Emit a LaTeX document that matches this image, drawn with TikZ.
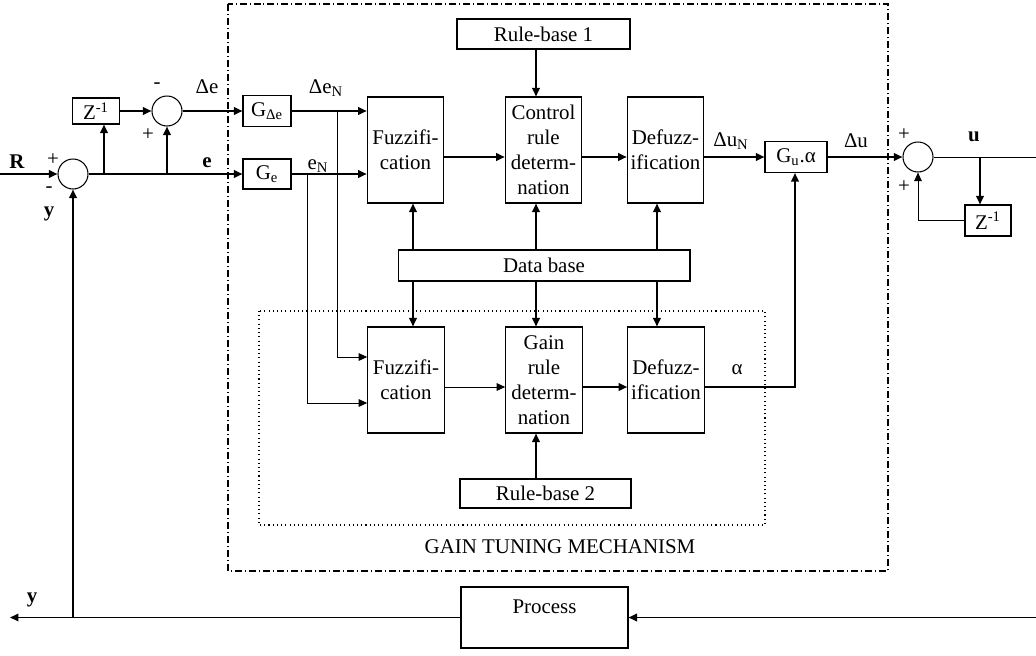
\documentclass[tikz,border=0pt]{standalone}
\usepackage{fontspec}
\setmainfont{Liberation Serif}
\usetikzlibrary{arrows.meta,calc}
\begin{document}
\begin{tikzpicture}[x=0.02cm,y=-0.02cm,
  font=\fontsize{11.9}{14.2}\selectfont,
  blk/.style={draw,line width=0.6pt,inner sep=0pt,align=center},
  fbox/.style={blk,minimum width=1.53cm,minimum height=2.12cm},
  sumc/.style={draw,circle,line width=0.6pt,minimum size=0.6cm,inner sep=0pt},
  thk/.style={line width=1.1pt},
  thn/.style={line width=0.55pt},
  arr/.style={-{Triangle[length=0.17cm,width=0.15cm]}},
  lbl/.style={inner sep=0pt},
  dashdot/.style={line width=0.6pt,dash pattern=on 0.14cm off 0.06cm on 0.02cm off 0.06cm},
  dots/.style={line width=0.6pt,dash pattern=on 0.6pt off 1.8pt},
]
\useasboundingbox (0,0) rectangle (1036,656);

% frames
\draw[dashdot] (228,4) rectangle (888,571);
\draw[dots] (259,311) rectangle (765,525);
\node[lbl] (gtm) at (560,547) {GAIN TUNING MECHANISM};

% blocks
\node[sumc] (s1) at (73,174) {};
\node[blk,minimum width=0.94cm,minimum height=0.52cm] (z1) at (96,111) {Z\textsuperscript{-1}};
\node[sumc] (s2) at (167,111) {};
\node[blk,minimum width=0.96cm,minimum height=0.62cm] (gde) at (267,111) {G\textsubscript{Δe}};
\node[blk,minimum width=0.96cm,minimum height=0.60cm] (ge) at (267,174) {G\textsubscript{e}};
\node[fbox] (fz1) at (405.5,150) {Fuzzifi-\\cation};
\node[fbox] (ctrl) at (543.5,150) {Control\\rule\\determ-\\nation};
\node[fbox] (dfz1) at (665.5,150) {Defuzz-\\ification};
\node[blk,minimum width=3.46cm,minimum height=0.6cm] (rb1) at (543.5,34) {Rule-base 1};
\node[blk,minimum width=5.84cm,minimum height=0.62cm] (db) at (544,265.5) {Data base};
\node[fbox] (fz2) at (406,380) {Fuzzifi-\\cation};
\node[fbox] (gain) at (544,380) {Gain\\rule\\determ-\\nation};
\node[fbox] (dfz2) at (666,380) {Defuzz-\\ification};
\node[blk,minimum width=3.42cm,minimum height=0.58cm] (rb2) at (545.5,493.5) {Rule-base 2};
\node[blk,minimum width=1.24cm,minimum height=0.62cm] (gua) at (796,157) {G\textsubscript{u}.α};
\node[sumc] (s3) at (918,157) {};
\node[blk,minimum width=0.92cm,minimum height=0.62cm] (z2) at (988,220.5) {Z\textsuperscript{-1}};
\node[blk,minimum width=3.34cm,minimum height=1.22cm,text height=0.7em,text depth=1.14em] (proc) at (544.5,617.5) {Process};

% coordinates
\coordinate (rin) at (0,174);
\coordinate (b1) at (104,174);
\coordinate (b2) at (167,174);
\coordinate (bde) at (337,111);
\coordinate (be) at (307,174);
\coordinate (r1) at (0,157);
\coordinate (r2) at (0,387);
\coordinate (xa) at (413,0);
\coordinate (xb) at (536,0);
\coordinate (xc) at (657,0);
\coordinate (ya) at (0,357);
\coordinate (yb) at (0,403);
\coordinate (xal) at (795,0);
\coordinate (bu) at (980,157);
\coordinate (uout) at (1036,157);
\coordinate (pin) at (1036,617.5);
\coordinate (yout) at (10,617.5);
\coordinate (by) at (73,617.5);

% connectors
\draw[thk,arr] (rin) -- (s1.west);
\draw[thk,arr] (s1.east) -- (ge.west);
\draw[thk,arr] (b1) -- (b1 |- z1.south);
\draw[thk,arr] (b2) -- (s2.south);
\draw[thk,arr] (z1.east) -- (s2.west);
\draw[thk,arr] (s2.east) -- (gde.west);
\draw[thk,arr] (gde.east) -- (gde.east -| fz1.west);
\draw[thk,arr] (ge.east) -- (ge.east -| fz1.west);
\draw[thn,arr] (bde) |- (fz2.west |- ya);
\draw[thn,arr] (be) |- (fz2.west |- yb);
\draw[thk,arr] (fz1.east |- r1) -- (ctrl.west |- r1);
\draw[thk,arr] (ctrl.east |- r1) -- (dfz1.west |- r1);
\draw[thk,arr] (dfz1.east |- r1) -- (gua.west |- r1);
\draw[thk,arr] (gua.east) -- (s3.west);
\draw[thk,arr] (rb1.south -| xb) -- (ctrl.north -| xb);
\draw[thk,arr] (db.north -| xa) -- (fz1.south -| xa);
\draw[thk,arr] (db.north -| xb) -- (ctrl.south -| xb);
\draw[thk,arr] (db.north -| xc) -- (dfz1.south -| xc);
\draw[thk,arr] (db.south -| xa) -- (fz2.north -| xa);
\draw[thk,arr] (db.south -| xb) -- (gain.north -| xb);
\draw[thk,arr] (db.south -| xc) -- (dfz2.north -| xc);
\draw[thn,arr] (fz2.east |- r2) -- (gain.west |- r2);
\draw[thk,arr] (gain.east |- r2) -- (dfz2.west |- r2);
\draw[thk,arr] (dfz2.east |- r2) -| (gua.south -| xal);
\draw[thk,arr] (rb2.north -| xb) -- (gain.south -| xb);
\draw[thn] (s3.east) -- (uout);
\draw[thk,arr] (bu) -- (z2.north -| bu);
\draw[thn,arr] (z2.west) -| (s3.south);
\draw[thk,arr] (pin) -- (proc.east);
\draw[thk,arr] (proc.west) -- (yout);
\draw[thk,arr] (by) -- (s1.south);

% labels
\node[lbl] (lR) at (17,162) {\textbf{R}};
\node[lbl] (lp1) at (53,160) {+};
\node[lbl] (lm1) at (49,190) {-};
\node[lbl] (ly1) at (49,214) {\textbf{y}};
\node[lbl] (lm2) at (157,86) {-};
\node[lbl] (lp2) at (148,135) {+};
\node[lbl] (lde) at (207,87) {Δe};
\node[lbl] (le) at (207,163) {\textbf{e}};
\node[lbl] (ldeN) at (326,88) {Δe\textsubscript{N}};
\node[lbl] (leN) at (318,166) {e\textsubscript{N}};
\node[lbl] (lduN) at (731,141) {Δu\textsubscript{N}};
\node[lbl] (ldu) at (856,141) {Δu};
\node[lbl] (lp3) at (904,135) {+};
\node[lbl] (lp4) at (904,187) {+};
\node[lbl] (lu) at (974,137) {\textbf{u}};
\node[lbl] (lal) at (737,370) {α};
\node[lbl] (ly2) at (32,600) {\textbf{y}};
\end{tikzpicture}
\end{document}
